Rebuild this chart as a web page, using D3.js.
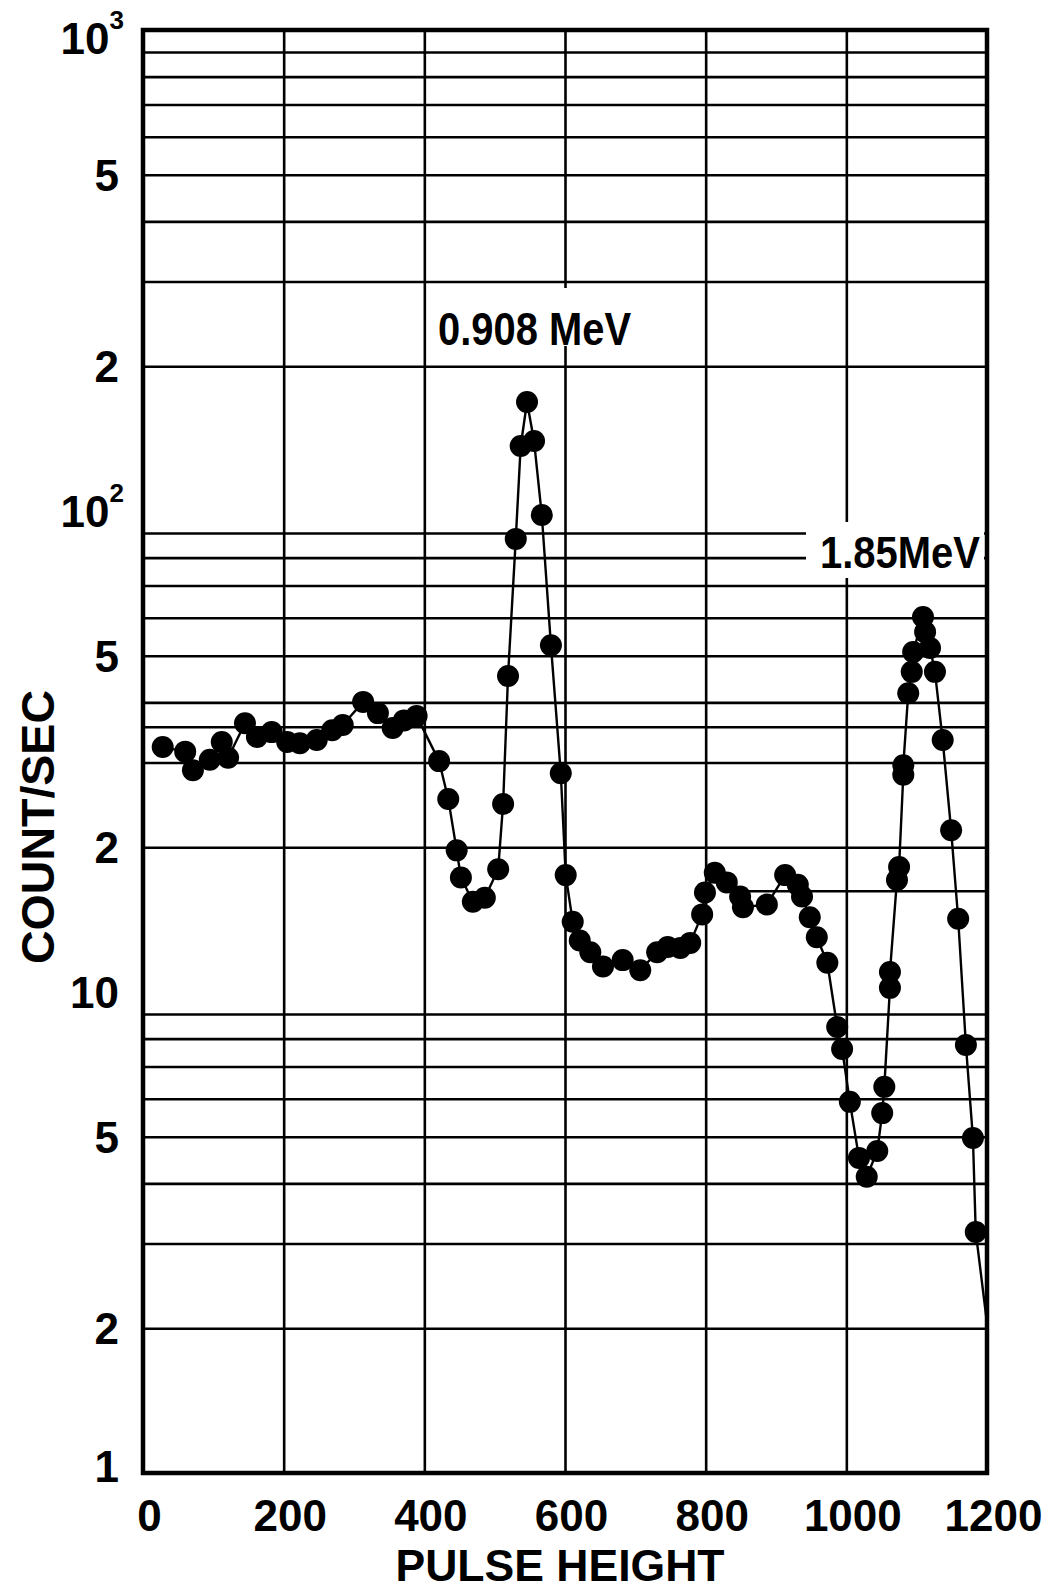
<!DOCTYPE html>
<html>
<head>
<meta charset="utf-8">
<script src="https://cdn.jsdelivr.net/npm/d3@7"></script>
<style>
  html, body { margin: 0; padding: 0; background: #fff; }
  svg { display: block; }
  text { font-family: "Liberation Sans", Arial, sans-serif; font-weight: 700; fill: #000; }
</style>
</head>
<body>
<svg id="chart" width="1061" height="1591"></svg>
<script>
// Pulse-height spectrum: counting rate vs. pulse height
const pulseHeight = [
  28, 60, 71, 95, 112, 121, 145, 162, 183, 205, 223, 247, 269, 284, 313, 334, 355, 371, 389,
  421, 434, 446, 452, 469, 486, 505, 512, 519, 530, 537, 546, 556, 567, 580, 594, 601, 611, 621,
  636, 654, 682, 707, 731, 746, 764, 778, 795, 799, 813, 830, 849, 853, 887, 913, 931, 937, 948,
  958, 973, 987, 994, 1005, 1018, 1029, 1044, 1051, 1054, 1062, 1062, 1072, 1075, 1081, 1081,
  1088, 1093, 1095, 1109, 1112, 1119, 1126, 1137, 1149, 1159, 1170, 1180, 1184
];
const countRate = [
  32.3, 31.6, 28.9, 30.4, 33.1, 30.7, 36.2, 33.9, 34.7, 33.1, 32.9, 33.4, 35.0, 35.9, 40.1, 38.0, 35.4, 36.7, 37.5,
  30.2, 25.2, 19.7, 17.3, 15.4, 15.7, 18.0, 24.6, 45.4, 87.5, 136.5, 168.5, 139.8, 98.1, 52.6, 28.5, 17.5, 14.0, 12.8,
  12.1, 11.3, 11.65, 11.1, 12.1, 12.4, 12.35, 12.65, 14.5, 16.1, 17.7, 16.9, 15.8, 15.0, 15.2, 17.5, 16.7, 15.8, 14.3,
  13.0, 11.5, 8.46, 7.61, 5.91, 4.52, 4.13, 4.67, 5.60, 6.35, 10.2, 11.0, 17.1, 18.2, 28.3, 29.6,
  41.8, 46.3, 50.9, 60.2, 56.0, 51.9, 46.3, 33.4, 21.7, 14.2, 7.76, 4.97, 3.17
];
// the curve runs on past the last measured point to the right edge
const curveEnd = [1200, 2.05];

const xTickValues = [0, 200, 400, 600, 800, 1000, 1200];
const xGridValues = [200, 400, 600, 800, 1000];
const yGridValues = [2, 3, 4, 5, 6, 7, 8, 9,
                     20, 30, 35.6, 40, 50, 60, 70, 80, 90,
                     200, 300, 400, 500, 600, 700, 800, 900];
const partialGridValue = 16.2;      // ruled only over the right part of the sheet
const partialGridStart = 859;
const yTickValues = [1000, 500, 200, 100, 50, 20, 10, 5, 2, 1];
const yTickText   = ["10", "5", "2", "10", "5", "2", "10", "5", "2", "1"];
const yTickSup    = ["3", "", "", "2", "", "", "", "", "", ""];
const peakLabels  = ["0.908 MeV", "1.85MeV"];
const xTitle = "PULSE HEIGHT";
const yTitle = "COUNT/SEC";

const L = 143, R = 987, T = 30, B = 1473;
const svg = d3.select("#chart");
const x = d3.scaleLinear().domain([0, 1200]).range([L, R]);
const y = d3.scaleLog().domain([1, 1000]).range([B, T]);

// grid
const gx = svg.append("g").attr("transform", `translate(0,${B})`)
  .call(d3.axisBottom(x).tickValues(xGridValues).tickSize(-(B - T)).tickFormat(""));
gx.select(".domain").remove();
gx.selectAll("line").attr("stroke", "#000").attr("stroke-width", 2.6);

const gy = svg.append("g").attr("transform", `translate(${L},0)`)
  .call(d3.axisLeft(y).tickValues(yGridValues).tickSize(-(R - L)).tickFormat(""));
gy.select(".domain").remove();
gy.selectAll("line").attr("stroke", "#000").attr("stroke-width", 2.6);

svg.append("line")
  .attr("x1", x(partialGridStart)).attr("x2", R)
  .attr("y1", y(partialGridValue)).attr("y2", y(partialGridValue))
  .attr("stroke", "#000").attr("stroke-width", 2.6);

// label backgrounds that interrupt the ruling
svg.append("rect").attr("x", 436).attr("y", 288).attr("width", 198).attr("height", 58).attr("fill", "#fff");
svg.append("rect").attr("x", 806).attr("y", 522).attr("width", 178).attr("height", 56).attr("fill", "#fff");

// frame
svg.append("rect").attr("x", L).attr("y", T).attr("width", R - L).attr("height", B - T)
  .attr("fill", "none").attr("stroke", "#000").attr("stroke-width", 4.5);

// x tick labels
const xa = svg.append("g").attr("transform", `translate(6,${B})`)
  .call(d3.axisBottom(x).tickValues(xTickValues).tickSize(0).tickPadding(27).tickFormat(d3.format("d")));
xa.select(".domain").remove();
xa.selectAll("text").attr("font-size", 44).attr("fill", "#000")
  .style("font-family", '"Liberation Sans", Arial, sans-serif').style("font-weight", 700);

// y tick labels (powers of ten with superscripts)
const yl = svg.append("g");
yTickValues.forEach((v, i) => {
  const py = Math.min(Math.max(y(v), T + 8), B - 7);
  const t = yl.append("text")
    .attr("x", yTickSup[i] ? 124 : 119)
    .attr("y", py)
    .attr("dy", "0.36em")
    .attr("text-anchor", "end")
    .attr("font-size", 44);
  t.append("tspan").text(yTickText[i]);
  if (yTickSup[i]) {
    t.append("tspan").attr("font-size", 26).attr("dy", "-0.95em").text(yTickSup[i]);
  }
});

// axis titles
svg.append("text")
  .attr("x", 560).attr("y", 1581)
  .attr("text-anchor", "middle")
  .attr("font-size", 44)
  .attr("textLength", 329).attr("lengthAdjust", "spacingAndGlyphs")
  .text(xTitle);

svg.append("text")
  .attr("transform", "translate(54,827) rotate(-90)")
  .attr("text-anchor", "middle")
  .attr("font-size", 46)
  .attr("textLength", 274).attr("lengthAdjust", "spacingAndGlyphs")
  .text(yTitle);

// peak labels
svg.append("text").attr("x", 438).attr("y", 345).attr("font-size", 46)
  .attr("textLength", 193).attr("lengthAdjust", "spacingAndGlyphs").text(peakLabels[0]);
svg.append("text").attr("x", 820).attr("y", 568).attr("font-size", 44)
  .attr("textLength", 160).attr("lengthAdjust", "spacingAndGlyphs").text(peakLabels[1]);

// data
const pts = pulseHeight.map((p, i) => [p, countRate[i]]);
const line = d3.line().x(d => x(d[0])).y(d => y(d[1]));
svg.append("path")
  .datum(pts.concat([curveEnd]))
  .attr("d", line)
  .attr("fill", "none")
  .attr("stroke", "#000")
  .attr("stroke-width", 2.4)
  .attr("stroke-linejoin", "round");

svg.append("g").selectAll("circle")
  .data(pts)
  .join("circle")
  .attr("cx", d => x(d[0]))
  .attr("cy", d => y(d[1]))
  .attr("r", 11)
  .attr("fill", "#000");
</script>
</body>
</html>
